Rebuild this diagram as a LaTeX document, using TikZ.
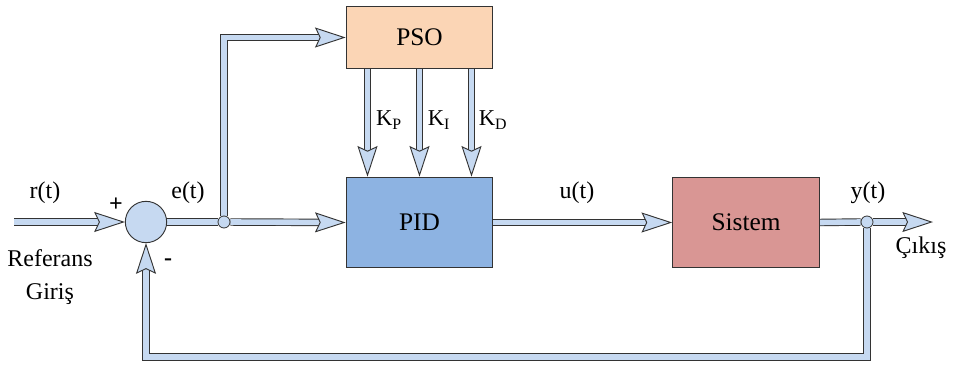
\documentclass[tikz,border=0pt]{standalone}
\usepackage{fontspec}
\setmainfont{Liberation Serif}
\usetikzlibrary{arrows.meta,positioning,backgrounds}
\definecolor{pipeblue}{HTML}{C6D9F1}
\definecolor{psofill}{HTML}{FBD5B5}
\definecolor{pidfill}{HTML}{8DB3E2}
\definecolor{sysfill}{HTML}{D99694}
\tikzset{
  block/.style={draw=black!80, line width=0.7pt, minimum width=110pt, minimum height=68pt, font=\fontsize{19}{22}\selectfont},
  pipe/.style={draw=black!80, line width=0.7pt, double=pipeblue, double distance=4.2pt},
  pipearrow/.style={pipe, -{Stealth[length=23pt, width=15pt, inset=3.5pt, fill=pipeblue, line width=0.7pt]}},
  dotnode/.style={circle, draw=black!80, fill=pipeblue, line width=0.6pt, minimum size=9pt, inner sep=0pt},
  lbl/.style={font=\fontsize{18}{21}\selectfont, inner sep=1pt}
}
\begin{document}
\begin{tikzpicture}[x=0.75pt,y=-0.75pt]
    \useasboundingbox (0,0) rectangle (957,368);
    % blocks
    \node[block, fill=psofill, minimum height=46pt] (pso) at (419.5,37.5) {PSO};
    \node[block, fill=pidfill] (pid) at (419.5,222.5) {PID};
    \node[block, fill=sysfill] (sys) at (746,222.5) {Sistem};
    \node[circle, draw=black!80, fill=pipeblue, line width=0.7pt, minimum size=31pt, inner sep=0pt] (sum) at (146,222) {};
    \node[dotnode] (je) at (224,222) {};
    \node[dotnode] (jy) at (867,222) {};
    \coordinate (rin) at (14,222);
    \coordinate (yout) at (933,222);
    \coordinate (fb) at (146,357);
    % connectors
    \begin{pgfonlayer}{background}
    \draw[pipearrow] (rin) -- (sum.west);
    \draw[pipe] (sum.east) -- (je.west);
    \draw[pipearrow] (je.east) -- (pid.west);
    \draw[pipearrow] (je.north) |- (pso.west);
    \foreach \dx in {-52,0,52}
        \draw[pipearrow] ([xshift=\dx*0.75pt]pso.south) -- ([xshift=\dx*0.75pt]pid.north);
    \draw[pipearrow] (pid.east) -- (sys.west);
    \draw[pipe] (sys.east) -- (jy.west);
    \draw[pipearrow] (jy.east) -- (yout);
    \draw[pipearrow] (jy.south) |- (fb) -- (sum.south);
    \end{pgfonlayer}
    % labels
    \node[lbl] (rlbl) at (45,193) {r(t)};
    \node[lbl] (plus) at (116,205) {\textbf{+}};
    \node[lbl] (minus) at (168,262) {\textbf{-}};
    \node[lbl] (ref) at (50,258) {Referans};
    \node[lbl] (gir) at (50,294) {Giriş};
    \node[lbl, font=\fontsize{17}{20}\selectfont] (kp) at (389,120) {K\textsubscript{P}};
    \node[lbl, font=\fontsize{17}{20}\selectfont] (ki) at (439,120) {K\textsubscript{I}};
    \node[lbl, font=\fontsize{17}{20}\selectfont] (kd) at (493,120) {K\textsubscript{D}};
    \node[lbl] (elbl) at (188,193) {e(t)};
    \node[lbl] (ulbl) at (577,193) {u(t)};
    \node[lbl] (ylbl) at (868,193) {y(t)};
    \node[lbl] (cikis) at (921,248) {Çıkış};
\end{tikzpicture}
\end{document}
